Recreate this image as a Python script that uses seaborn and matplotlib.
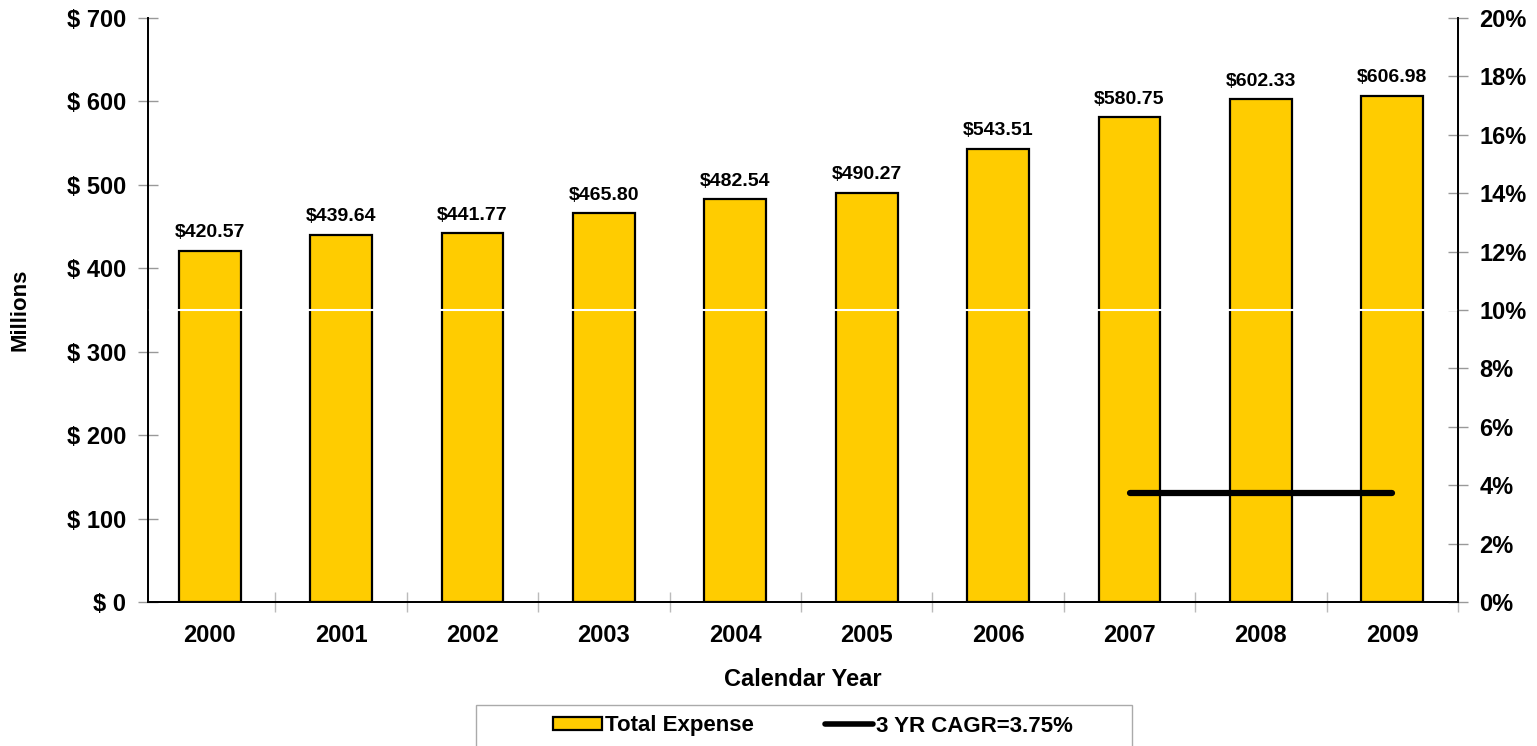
import numpy as np
import pandas as pd
import seaborn as sns
import matplotlib.pyplot as plt
from matplotlib.patches import Rectangle
from matplotlib.lines import Line2D
from matplotlib.ticker import FixedLocator

years = ['2000', '2001', '2002', '2003', '2004', '2005', '2006', '2007', '2008', '2009']
expense = [420.57, 439.64, 441.77, 465.80, 482.54, 490.27, 543.51, 580.75, 602.33, 606.98]
cagr_years = ['2007', '2008', '2009']
cagr_values = [3.75, 3.75, 3.75]
left_ticks = [0, 100, 200, 300, 400, 500, 600, 700]
right_ticks = [0, 2, 4, 6, 8, 10, 12, 14, 16, 18, 20]

sns.set_style('white')
plt.rcParams['font.family'] = ['Liberation Sans', 'DejaVu Sans']
plt.rcParams['font.weight'] = 'bold'
plt.rcParams['text.color'] = 'black'
plt.rcParams['axes.labelcolor'] = 'black'

df = pd.DataFrame({'year': years, 'expense': expense})

fig = plt.figure(figsize=(15.37, 7.46), dpi=100)
ax = fig.add_axes([148/1537, 1 - 602/746, (1458 - 148)/1537, (602 - 18)/746])

sns.barplot(data=df, x='year', y='expense', color='#FFCC00', saturation=1,
            edgecolor='black', linewidth=1.6, width=0.47, ax=ax)
ax.bar_label(ax.containers[0], labels=['${:.2f}'.format(v) for v in expense],
             padding=7, fontsize=14, fontweight='bold', color='black')

ax.set_xlim(-0.47, 9.5)
ax.set_ylim(0, 700)
ax.set_yticks(left_ticks)
ax.set_yticklabels(['$ {}'.format(t) for t in left_ticks])
ax.tick_params(axis='y', direction='inout', length=15, color='#999999', width=1,
               labelsize=17, labelcolor='black', pad=8, left=True)
ax.tick_params(axis='x', length=0, labelsize=17, labelcolor='black', pad=16)
ax.xaxis.set_minor_locator(FixedLocator(np.arange(0.5, 10, 1)))
ax.tick_params(axis='x', which='minor', direction='inout', length=14,
               color='#BBBBBB', width=1, bottom=True)
for lab in ax.get_xticklabels() + ax.get_yticklabels():
    lab.set_fontweight('bold')

ax.set_xlabel('Calendar Year', fontsize=17, fontweight='bold', labelpad=15)
ax.set_ylabel('Millions', fontsize=16, fontweight='bold', labelpad=26)

for s in ['left', 'bottom', 'right']:
    ax.spines[s].set_color('black')
    ax.spines[s].set_linewidth(1.3)
ax.spines['top'].set_visible(False)

ax2 = ax.twinx()
ax2.set_ylim(0, 20)
ax2.set_yticks(right_ticks)
ax2.set_yticklabels(['{}%'.format(t) for t in right_ticks])
ax2.tick_params(axis='y', direction='inout', length=15, color='#999999', width=1,
                labelsize=17, labelcolor='black', pad=8, right=True)
for lab in ax2.get_yticklabels():
    lab.set_fontweight('bold')
for s in ['left', 'bottom', 'right']:
    ax2.spines[s].set_color('black')
    ax2.spines[s].set_linewidth(1.3)
ax2.spines['top'].set_visible(False)

ax2.axhline(10, color='white', linewidth=1.5)

cagr_pos = [years.index(y) for y in cagr_years]
ax2.plot(cagr_pos, cagr_values, color='black', linewidth=4.5, solid_capstyle='round')

# legend box at the bottom
fig.patches.append(Rectangle((476/1537, -0.05), 656/1537, 0.05 + 1 - 705/746,
                             transform=fig.transFigure, facecolor='white',
                             edgecolor='#AAAAAA', linewidth=1))
handles = [Rectangle((0, 0), 1, 1, facecolor='#FFCC00', edgecolor='black', linewidth=1.6),
           Line2D([0], [0], color='black', linewidth=4)]
fig.legend(handles, ['Total Expense', '3 YR CAGR=3.75%'], loc='center',
           bbox_to_anchor=(813/1537, 1 - 726/746), ncol=2, frameon=False,
           prop={'size': 16, 'weight': 'bold'}, handlelength=2.2, handleheight=0.55,
           handletextpad=0.1, columnspacing=3.2, labelcolor='black')

fig.savefig('out.png', dpi=100)
